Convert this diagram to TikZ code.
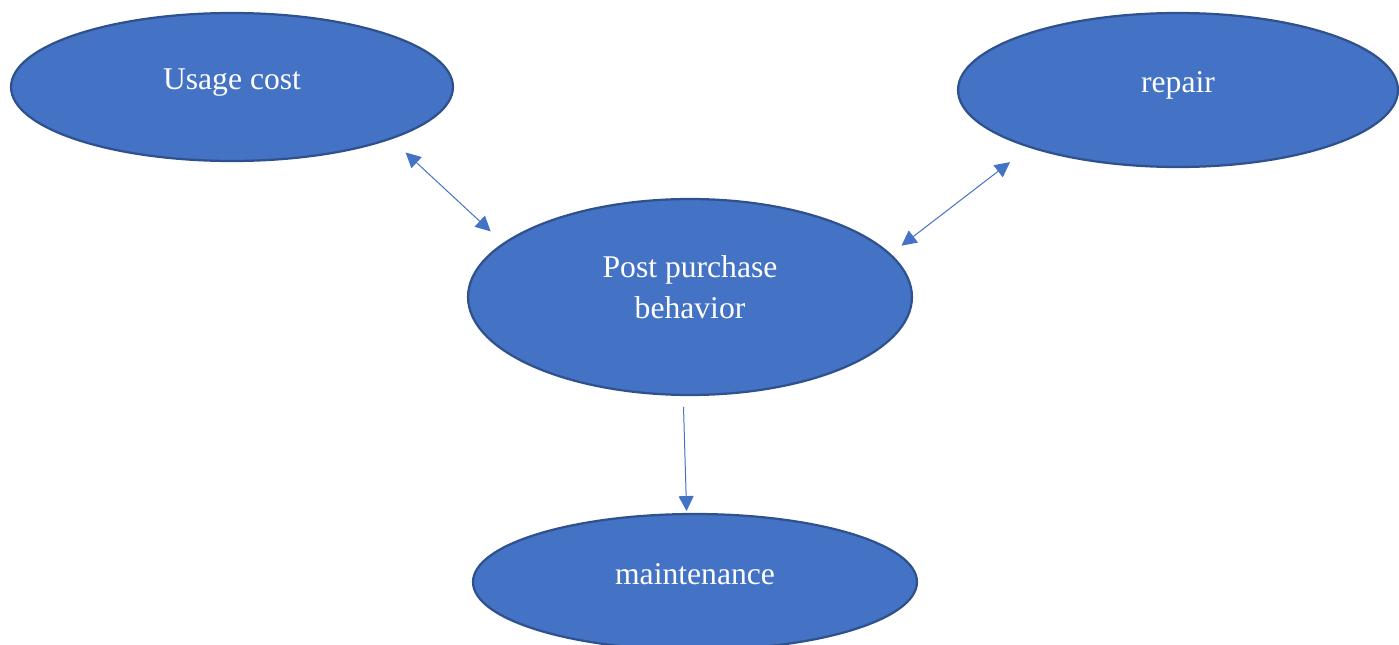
\documentclass[tikz,border=0pt]{standalone}
\usepackage{fontspec}
\setmainfont{Liberation Serif}
\usetikzlibrary{shapes.geometric, arrows.meta}
\definecolor{bubbleblue}{RGB}{68,114,196}
\definecolor{bubbleedge}{RGB}{47,82,143}
\tikzset{
  bubble/.style={
    ellipse,
    fill=bubbleblue,
    draw=bubbleedge,
    line width=0.045cm,
    inner sep=0pt,
    outer sep=0pt,
    text=white,
    font=\fontsize{18pt}{23.3pt}\selectfont,
    text height=13.7pt,
    text depth=11.4pt,
    align=center
  },
  link/.style={
    draw=bubbleblue,
    line width=0.02cm,
    >={Triangle[length=0.3cm, width=0.3cm]}
  }
}

\begin{document}
\begin{tikzpicture}[x=0.02cm, y=-0.02cm]
  \clip (0,0) rectangle (1399,645);

  % Ellipses
  \node[bubble, minimum width=8.84cm, minimum height=2.96cm] (usage) at (232,87) {Usage cost};
  \node[bubble, minimum width=8.80cm, minimum height=3.08cm] (repair) at (1178,90) {repair};
  \node[bubble, minimum width=8.88cm, minimum height=3.92cm, text height=, text depth=] (post) at (690,297)
    {Post purchase\\behavior\rule[-11.2pt]{0pt}{11.2pt}};
  \node[bubble, minimum width=8.88cm, minimum height=2.72cm] (maint) at (695,582) {maintenance};

  % Arrows
  \draw[link, <->, shorten <=0.41cm, shorten >=0.36cm] (usage.-18.5) -- (post.164.4);
  \draw[link, <->, shorten <=0.5cm, shorten >=0.29cm] (repair.-159.6) -- (post.12.8);
  \draw[link, ->, shorten <=0.24cm, shorten >=0.06cm] (post.-94.6) -- (maint.97.4);
\end{tikzpicture}
\end{document}
